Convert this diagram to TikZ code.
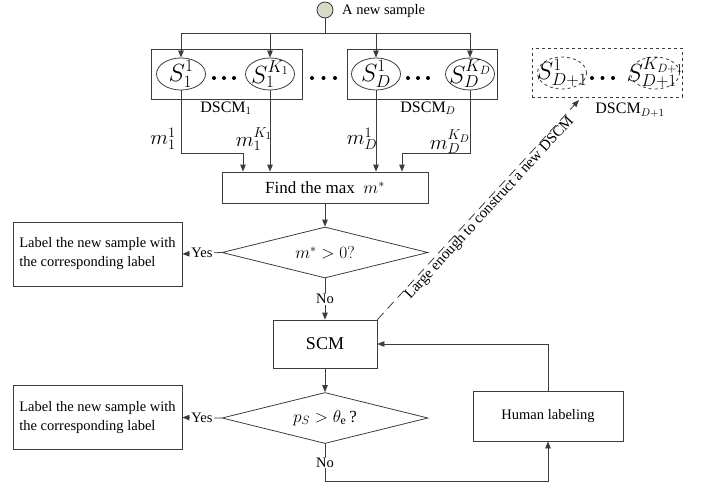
\documentclass[tikz,border=0pt]{standalone}
\usepackage{fontspec}
\setmainfont{Liberation Serif}
\usetikzlibrary{arrows.meta,shapes.geometric}
\definecolor{sampfill}{RGB}{214,219,196}
\definecolor{linec}{RGB}{60,60,60}
\tikzset{
  base/.style={font=\fontsize{14.5}{19}\selectfont},
  arr/.style={draw=linec, line width=0.8pt, -{Triangle[length=7pt,width=5.5pt]}},
  ln/.style={draw=linec, line width=0.8pt},
  boxn/.style={draw=linec, line width=0.8pt, inner sep=2pt},
  ell/.style={ellipse, draw=linec, line width=0.8pt, minimum width=49pt, minimum height=32pt, inner sep=0pt},
  dell/.style={ell, dashed},
  stxt/.style={font=\fontsize{25}{27}\selectfont, inner sep=0pt},
  mtxt/.style={font=\fontsize{21}{23}\selectfont, inner sep=1pt},
  dia/.style={diamond, draw=linec, line width=0.8pt, aspect=4, inner sep=0pt, minimum width=206pt, minimum height=51pt, font=\fontsize{17}{19}\selectfont},
  labbox/.style={boxn, minimum width=169pt, minimum height=64pt, align=left},
  tag/.style={fill=white, inner sep=1pt},
  dot/.style={fill=black}
}
\begin{document}
\begin{tikzpicture}[x=1pt,y=-1pt,base]
\useasboundingbox (0,0) rectangle (706,487);

% top sample
\node[circle, draw=linec, line width=0.8pt, fill=sampfill, minimum size=16pt, inner sep=0pt] (samp) at (325,10) {};
\node[anchor=west, inner sep=0pt] (samptxt) at (342,11) {A new sample};

% DSCM boxes
\node[boxn, minimum width=151pt, minimum height=50pt] (box1) at (226.5,74) {};
\node[boxn, minimum width=150pt, minimum height=50pt] (boxD) at (422,74) {};
\node[boxn, dashed, minimum width=150pt, minimum height=49pt] (boxN) at (607,72.5) {};

% ellipses
\node[ell] (s11) at (181,74) {};
\node[ell] (s1K) at (270,74) {};
\node[ell] (sD1) at (376,74) {};
\node[ell] (sDK) at (470,74) {};
\node[dell] (sN1) at (562,73) {};
\node[dell] (sNK) at (655,73) {};
\node[stxt] (t11) at (s11) {$S_1^1$};
\node[stxt] (t1K) at (s1K) {$S_1^{K_1}$};
\node[stxt] (tD1) at (sD1) {$S_D^1$};
\node[stxt] (tDK) at (sDK) {$S_D^{K_D}$};
\node[stxt] (tN1) at (sN1) {$S_{D+1}^1$};
\node[stxt] (tNK) at (sNK) {$S_{D+1}^{K_{D+1}}$};

% dots
\foreach \x in {214,224,234, 312,323.5,335, 408,418,428, 592,602.5,613}
  \fill[dot] (\x,78) circle (2pt);

% DSCM labels
\node[font=\fontsize{16}{18}\selectfont] (l1) at (226,108) {DSCM$_1$};
\node[font=\fontsize{16}{18}\selectfont] (lD) at (428,108) {DSCM$_D$};
\node[font=\fontsize{16}{18}\selectfont] (lN) at (630,110) {DSCM$_{D+1}$};

% find the max
\node[boxn, minimum width=206pt, minimum height=31pt, font=\fontsize{17}{19}\selectfont] (find) at (325,187.5) {Find the max\enspace $m^*$};

% connections from sample
\coordinate (bus) at (325,33);
\draw[ln] (samp) -- (bus);
\draw[arr] (bus) -| (s11);
\draw[arr] (bus) -| (s1K);
\draw[arr] (bus) -| (sD1);
\draw[arr] (bus) -| (sDK);

% outputs to find
\coordinate (lvl) at (0,153);
\draw[arr] (s11) -- (s11 |- lvl) -| ([xshift=-82pt]find.north);
\draw[arr] (s1K) -- (s1K |- find.north);
\draw[arr] (sD1) -- (sD1 |- find.north);
\draw[arr] (sDK) -- (sDK |- lvl) -| ([xshift=77pt]find.north);

\node[mtxt] (m11) at (163,139) {$m_1^1$};
\node[mtxt] (m1K) at (254,139) {$m_1^{K_1}$};
\node[mtxt] (mD1) at (362,139) {$m_D^1$};
\node[mtxt] (mDK) at (450,142) {$m_D^{K_D}$};

% decision 1
\node[dia] (dia1) at (325,252.5) {$m^*>0?$};
\node[labbox] (lab1) at (97.5,254) {Label the new sample with\\the corresponding label};
\draw[arr] (find) -- (dia1);
\draw[arr] (dia1.west) -- node[tag]{Yes} (lab1.east);

% SCM
\node[boxn, minimum width=104pt, minimum height=48pt, font=\fontsize{18}{20}\selectfont] (scm) at (325,344) {SCM};
\draw[arr] (dia1) -- node[tag]{No} (scm);

% decision 2
\node[dia] (dia2) at (325,418) {$p_S>\theta_{\mathrm{e}}$\,?};
\node[labbox] (lab2) at (97.5,417.5) {Label the new sample with\\the corresponding label};
\draw[arr] (scm) -- (dia2);
\draw[arr] (dia2.west) -- node[tag]{Yes} (lab2.east);

% human labeling
\node[boxn, minimum width=150pt, minimum height=50pt] (hum) at (548,416) {Human labeling};
\coordinate (bot) at (325,481);
\draw[arr] (dia2.south) -- node[tag]{No} (bot) -| (hum.south);
\draw[arr] (hum.north) |- (scm.east);

% new DSCM
\coordinate (dtip) at (579,100);
\draw[arr, dashed, dash pattern=on 9pt off 6pt] (scm.north east) -- node[sloped, below, pos=0.53, inner sep=0pt, font=\fontsize{15}{17}\selectfont] {Large enough to construct a new DSCM} (dtip);
\end{tikzpicture}
\end{document}
